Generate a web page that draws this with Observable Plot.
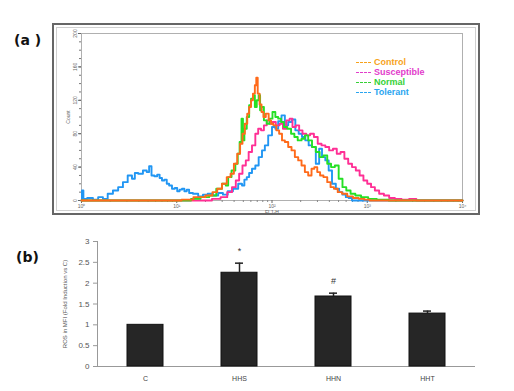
<!DOCTYPE html>
<html>
<head>
<meta charset="utf-8">
<script src="https://cdn.jsdelivr.net/npm/d3@7"></script>
<script src="https://cdn.jsdelivr.net/npm/@observablehq/plot@0.6"></script>
<style>
  body { margin: 0; background: #fff; }
  #wrap { position: relative; width: 514px; height: 391px; overflow: hidden; background: #fff; font-family: "Liberation Sans", Arial, sans-serif; }
  .abs { position: absolute; }
  .panel-label { font-family: "DejaVu Sans", sans-serif; font-weight: bold; font-size: 14px; color: #111; }
  #boxA { left: 52px; top: 23px; width: 428px; height: 192px; box-sizing: border-box; border: 2px solid #666; }
  #boxAin { left: 2px; top: 2px; right: 2px; bottom: 2px; border: 1px solid #d0d0d0; }
  .leg { font-family: "Liberation Sans", Arial, sans-serif; font-size: 9px; font-weight: bold; line-height: 10px; white-space: nowrap; }
  .leg span.ln { display: inline-block; width: 15px; border-top: 1px dashed currentColor; vertical-align: middle; margin-right: 3px; }
</style>
</head>
<body>
<div id="wrap">
  <div class="abs panel-label" style="left:14px; top:32px;">(a )</div>
  <div class="abs panel-label" style="left:16px; top:249px;">(b)</div>
  <div id="boxA" class="abs"><div id="boxAin" class="abs"></div></div>
  <div id="plotA" class="abs" style="left:52px; top:23px;"></div>
  <div id="legendA" class="abs" style="left:356px; top:57px;"></div>
  <div id="plotB" class="abs" style="left:0px; top:232px;"></div>
</div>
<script>
// ---------- Panel (a): flow cytometry histograms (x = log10 of FL1-H intensity, y = count) ----------
const seriesNames = ["Control", "Susceptible", "Normal", "Tolerant"];
const lineColors = ["#ff6a1a", "#ff2f95", "#25e025", "#2196f3"];
const legendColors = ["#f7a21b", "#e23ccb", "#36d136", "#2aa5f0"];

const controlLog = [0.00,1.00,1.10,1.25,1.35,1.40,1.45,1.50,1.55,1.58,1.62,1.65,1.68,1.70,1.73,1.75,1.77,1.79,1.81,1.83,1.84,1.86,1.88,1.90,1.92,1.95,1.98,2.00,2.03,2.06,2.09,2.12,2.15,2.19,2.22,2.26,2.29,2.33,2.36,2.40,2.43,2.46,2.49,2.52,2.56,2.60,2.63,2.67,2.71,2.76,2.82,2.88,2.94,3.00,3.05,4.00];
const controlCount = [0,0,1,4,6,10,14,20,28,32,44,56,68,80,92,104,112,120,128,138,147,128,115,106,100,104,96,92,90,84,80,72,70,64,60,52,48,42,34,30,38,40,34,30,28,22,16,14,10,8,5,3,2,1,0,0];

const susLog = [0.00,1.32,1.42,1.50,1.56,1.60,1.64,1.67,1.71,1.74,1.77,1.81,1.84,1.87,1.90,1.93,1.96,1.99,2.02,2.06,2.10,2.13,2.17,2.20,2.23,2.27,2.30,2.34,2.38,2.42,2.46,2.50,2.54,2.58,2.62,2.66,2.70,2.74,2.78,2.82,2.86,2.90,2.94,2.98,3.02,3.06,3.10,3.15,3.20,3.26,3.32,3.40,3.48,3.55,4.00];
const susCount = [0,0,2,4,10,16,24,32,42,48,58,66,80,86,84,90,96,92,94,90,92,86,96,98,88,90,84,80,78,80,76,68,66,64,60,62,56,58,50,44,40,36,30,24,20,16,12,8,6,3,2,1,2,0,0];

const normalLog = [0.00,1.10,1.20,1.30,1.38,1.45,1.50,1.53,1.55,1.60,1.63,1.65,1.67,1.69,1.70,1.72,1.75,1.77,1.79,1.81,1.83,1.85,1.87,1.88,1.90,1.93,1.96,1.99,2.02,2.05,2.08,2.11,2.14,2.18,2.22,2.25,2.29,2.33,2.36,2.40,2.44,2.48,2.52,2.56,2.60,2.64,2.68,2.72,2.76,2.80,2.85,2.90,2.97,3.05,3.15,3.30,4.00];
const normalCount = [0,0,2,4,6,14,20,18,28,36,44,56,70,98,72,86,100,114,122,126,112,120,126,108,112,96,92,98,106,100,98,94,88,86,80,76,72,74,78,72,64,58,52,54,44,40,42,26,16,12,8,6,4,2,1,0,0];

const tolLog = [0.00,0.01,0.03,0.09,0.15,0.20,0.25,0.30,0.36,0.41,0.46,0.51,0.55,0.57,0.62,0.67,0.70,0.72,0.75,0.78,0.81,0.83,0.86,0.88,0.91,0.93,0.97,0.99,1.02,1.04,1.07,1.09,1.12,1.14,1.20,1.25,1.30,1.35,1.41,1.46,1.51,1.56,1.62,1.67,1.70,1.72,1.75,1.77,1.81,1.84,1.88,1.91,1.94,1.98,2.02,2.05,2.08,2.12,2.15,2.19,2.23,2.26,2.30,2.33,2.37,2.40,2.44,2.48,2.51,2.54,2.58,2.61,2.65,2.69,2.72,2.76,2.79,2.82,2.86,4.00];
const tolCount = [0,12,2,3,1,4,2,8,12,16,22,30,26,33,32,36,34,41,30,29,31,27,24,25,20,18,14,15,11,13,14,11,13,9,8,5,7,8,6,9,7,11,14,20,18,25,28,33,38,42,52,60,66,78,88,86,95,102,90,94,97,84,80,76,72,66,64,44,62,52,48,36,20,14,10,7,4,3,0,0];

const yTicksA = [0, 40, 80, 120, 160, 200];
const xTicksA = [1, 10, 100, 1000, 10000];
const xTickLabelsA = ["10⁰", "10¹", "10²", "10³", "10⁴"];

function rows(name, logs, counts) {
  return logs.map((l, i) => ({series: name, fl: 10 ** l, count: counts[i]}));
}
// draw order: Tolerant, Susceptible, Normal, Control (Control on top)
const histRows = [
  ...rows("Tolerant", tolLog, tolCount),
  ...rows("Susceptible", susLog, susCount),
  ...rows("Normal", normalLog, normalCount),
  ...rows("Control", controlLog, controlCount)
];
const minorX = d3.range(0, 4).flatMap(e => d3.range(2, 10).map(m => m * 10 ** e));

const plotA = Plot.plot({
  width: 428, height: 192,
  marginLeft: 29, marginRight: 18, marginTop: 10, marginBottom: 15,
  style: {background: "transparent", fontFamily: "Liberation Sans, Arial, sans-serif"},
  x: {type: "log", domain: [1, 10000], label: null},
  y: {domain: [0, 200], label: null},
  color: {domain: seriesNames, range: lineColors},
  marks: [
    Plot.frame({stroke: "#b0b0b0"}),
    Plot.axisY(d3.range(0, 201, 10), {tickSize: 2, text: null, stroke: "#777", label: null}),
    Plot.axisY(yTicksA, {tickSize: 3, fontSize: 5, fill: "#666", stroke: "#666", tickRotate: -90, tickPadding: 2, label: "Count", labelAnchor: "center", labelOffset: 15, labelArrow: false}),
    Plot.axisX(minorX, {tickSize: 2, text: null, stroke: "#888", label: null}),
    Plot.axisX(xTicksA, {tickSize: 3, fontSize: 5, fill: "#666", stroke: "#666", tickPadding: 1,
      tickFormat: d => xTickLabelsA[xTicksA.indexOf(d)], label: "FL1-H", labelAnchor: "center", labelOffset: 13, labelArrow: false}),
    Plot.lineY(histRows, {x: "fl", y: "count", z: "series", stroke: "series", strokeWidth: 1.9, curve: "step"})
  ]
});
document.getElementById("plotA").appendChild(plotA);

const legend = document.getElementById("legendA");
seriesNames.forEach((n, i) => {
  const d = document.createElement("div");
  d.className = "leg";
  d.style.color = legendColors[i];
  d.innerHTML = '<span class="ln"></span>' + n;
  legend.appendChild(d);
});

// ---------- Panel (b): bar chart ----------
const groups = ["C", "HHS", "HHN", "HHT"];
const rosValues = [1.0, 2.25, 1.68, 1.27];
const rosErrors = [0.0, 0.23, 0.08, 0.06];
const sigMarks = ["", "*", "#", ""];
const yTicksB = [0, 0.5, 1, 1.5, 2, 2.5, 3];

const barRows = groups.map((g, i) => ({group: g, value: rosValues[i], err: rosErrors[i], sig: sigMarks[i]}));

const plotB = Plot.plot({
  width: 514, height: 159,
  marginLeft: 97, marginRight: 39, marginTop: 9, marginBottom: 25,
  style: {background: "transparent", fontFamily: "Liberation Sans, Arial, sans-serif"},
  x: {domain: groups, paddingInner: 0.62, paddingOuter: 0.31, label: null},
  y: {domain: [0, 3], label: null},
  marks: [
    Plot.frame({anchor: "left", stroke: "#999"}),
    Plot.ruleY([0], {stroke: "#999"}),
    Plot.axisY(yTicksB, {tickSize: 4, fontSize: 8, fill: "#555", stroke: "#999", tickPadding: 4,
      tickFormat: d => String(d), label: "ROS in MFI (Fold Induction vs C)", labelAnchor: "center", labelOffset: 35, labelArrow: false}),
    Plot.axisX({tickSize: 0, tickPadding: 10, fontSize: 7, fill: "#444", label: null}),
    Plot.barY(barRows, {x: "group", y: "value", fill: "#262626", stroke: "#111", strokeWidth: 1}),
    Plot.ruleX(barRows.filter(d => d.err > 0), {x: "group", y1: "value", y2: d => d.value + d.err, stroke: "#222", strokeWidth: 1.5}),
    Plot.tickY(barRows.filter(d => d.err > 0), {x: "group", y: d => d.value + d.err, stroke: "#222", strokeWidth: 1.5, insetLeft: 14, insetRight: 14}),
    Plot.text(barRows.filter(d => d.sig), {x: "group", y: d => d.value + d.err, text: "sig", dy: -12, fontSize: 9, fill: "#333"})
  ]
});
plotB.querySelectorAll('[aria-label="y-axis label"] text').forEach(t => t.setAttribute("font-size", "6"));
document.getElementById("plotB").appendChild(plotB);
</script>
</body>
</html>
